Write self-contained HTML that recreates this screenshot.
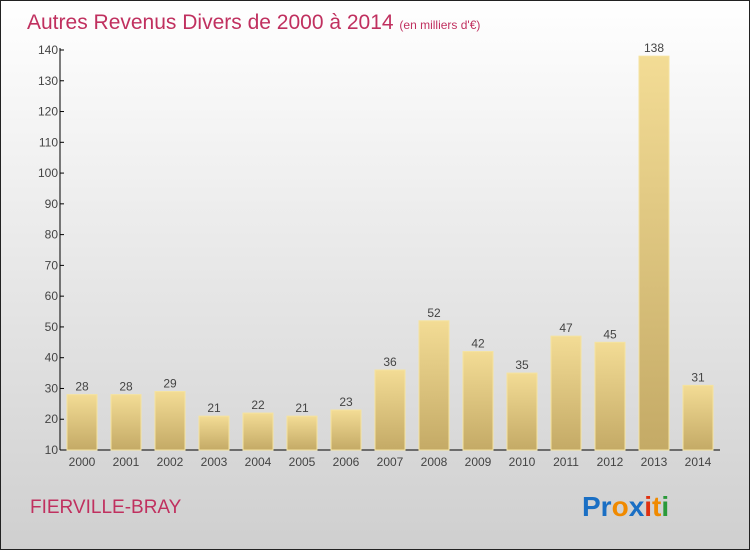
<!DOCTYPE html>
<html><head><meta charset="utf-8"><style>
body{margin:0;width:750px;height:550px;overflow:hidden}
svg{display:block;font-family:"Liberation Sans",sans-serif}
</style></head><body>
<svg id="c" width="750" height="550">
<defs>
<linearGradient id="bg" x1="0" y1="0" x2="0" y2="1"><stop offset="0" stop-color="#ffffff"/><stop offset="1" stop-color="#cfcfcf"/></linearGradient>
<linearGradient id="bar" x1="0" y1="0" x2="0" y2="1"><stop offset="0" stop-color="#f3dc95"/><stop offset="1" stop-color="#c4aa66"/></linearGradient>
</defs>
<rect x="0.5" y="0.5" width="749" height="549" fill="url(#bg)" stroke="#222"/>
<text x="27" y="29" font-size="21" fill="#c0305f">Autres Revenus Divers de 2000 à 2014 <tspan font-size="12">(en milliers d'€)</tspan></text>
<text x="30" y="513" font-size="19" fill="#c0305f">FIERVILLE-BRAY</text>
<g font-size="28" font-weight="bold">
<text x="582" y="516"><tspan fill="#1a6fc4">Pr</tspan><tspan fill="#f08a00">o</tspan><tspan fill="#1a6fc4">x</tspan><tspan fill="#e03010">i</tspan><tspan fill="#f08a00">t</tspan><tspan fill="#2a9a3a">i</tspan></text>
</g>
<g id="axes"></g><g id="bars"></g>
</svg>
<script>
const categories=["2000","2001","2002","2003","2004","2005","2006","2007","2008","2009","2010","2011","2012","2013","2014"];
const values=[28,28,29,21,22,21,23,36,52,42,35,47,45,138,31];
const yTicks=[10,20,30,40,50,60,70,80,90,100,110,120,130,140];
const NS="http://www.w3.org/2000/svg";
function y(v){return 450-(v-10)*400/130;}
function x(i){return 82+i*44;}
function mk(t,a,p){const e=document.createElementNS(NS,t);for(const k in a)e.setAttribute(k,a[k]);p.appendChild(e);return e;}
const ax=document.getElementById('axes'),bg=document.getElementById('bars');
let l=mk('line',{x1:60,y1:48,x2:60,y2:450,stroke:'#000'},ax);


l=mk('line',{x1:60,y1:450,x2:720,y2:450,stroke:'#000'},ax);


yTicks.forEach(v=>{
 const t=mk('line',{x1:60,x2:64,y1:y(v),y2:y(v),stroke:'#000'},ax);
 
 
 const tx=mk('text',{x:58,y:y(v)+4,'text-anchor':'end','font-size':12,fill:'#444'},ax);
 tx.textContent=v;
 
 
});
categories.forEach((c,i)=>{
 const v=values[i];
 const r=mk('rect',{x:x(i)-15,y:y(v),width:30,height:450-y(v),fill:'url(#bar)',stroke:'#f5e3a0','stroke-width':1},bg);
 
 
 const vt=mk('text',{x:x(i),y:y(v)-4,'text-anchor':'middle','font-size':12,fill:'#444'},bg);
 vt.textContent=v;
 
 
 const ct=mk('text',{x:x(i),y:466,'text-anchor':'middle','font-size':12,fill:'#444'},bg);
 ct.textContent=c;
 
 
});
</script>
</body></html>
